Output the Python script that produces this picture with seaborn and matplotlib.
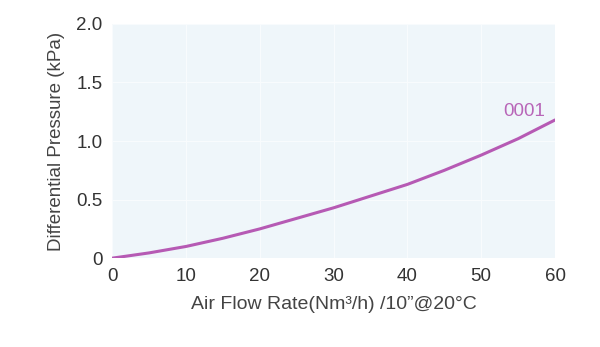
import matplotlib
matplotlib.use("Agg")
import matplotlib.pyplot as plt
import seaborn as sns
import pandas as pd

flow = [0, 5, 10, 15, 20, 25, 30, 35, 40, 45, 50, 55, 60]
pressure = [0.0, 0.045, 0.1, 0.17, 0.25, 0.34, 0.43, 0.53, 0.63, 0.75, 0.88, 1.02, 1.18]
series_name = "0001"
x_ticks = [0, 10, 20, 30, 40, 50, 60]
y_ticks = [0, 0.5, 1.0, 1.5, 2.0]
y_tick_labels = ["0", "0.5", "1.0", "1.5", "2.0"]

sns.set_theme(style="white")
plt.rcParams['font.family'] = ['Liberation Sans', 'DejaVu Sans']

df = pd.DataFrame({"flow": flow, "pressure": pressure})

fig = plt.figure(figsize=(6.0, 3.47), dpi=100)
ax = fig.add_axes([0.187, 0.256, 0.738, 0.675])
ax.set_facecolor("#EFF6FA")

sns.lineplot(data=df, x="flow", y="pressure", ax=ax, color="#B65AB4", linewidth=2.2,
             solid_joinstyle="round")

ax.set_xlim(0, 60)
ax.set_ylim(0, 2.0)
ax.set_xticks(x_ticks)
ax.set_yticks(y_ticks)
ax.set_yticklabels(y_tick_labels)
ax.grid(True, color="#F8FBFD", linewidth=0.8)
for s in ax.spines.values():
    s.set_visible(False)
ax.tick_params(axis="both", length=0, labelsize=13.5, colors="#333333", pad=7)
ax.set_xlabel("Air Flow Rate(Nm³/h) /10\u201d@20°C", fontsize=14, color="#444444", labelpad=8)
ax.set_ylabel("Differential Pressure (kPa)", fontsize=13.5, color="#444444", labelpad=8)

ax.text(58.7, 1.255, series_name, color="#B866B8", fontsize=13.5, ha="right", va="center")

fig.savefig("out.png", dpi=100)
